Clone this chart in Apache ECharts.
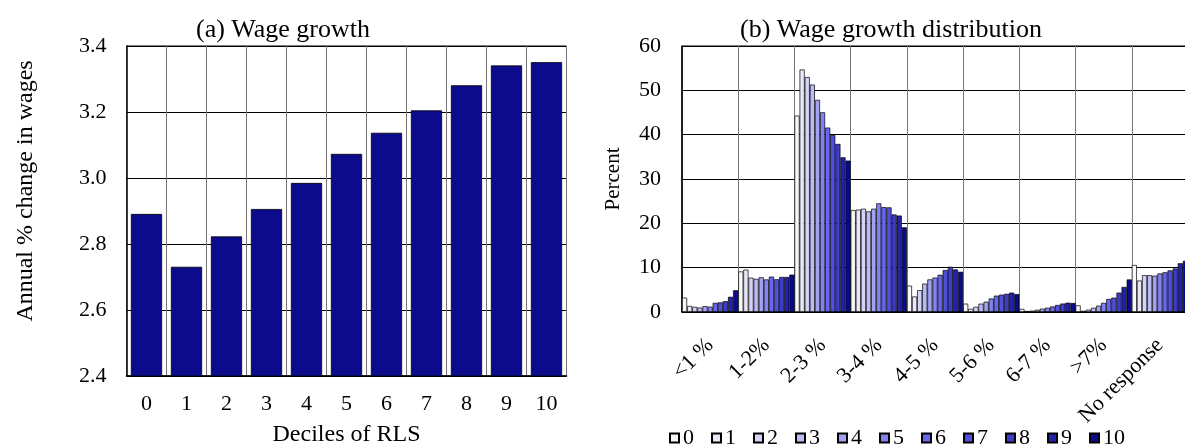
<!DOCTYPE html>
<html>
<head>
<meta charset="utf-8">
<script src="https://cdn.jsdelivr.net/npm/echarts@6/dist/echarts.min.js"></script>
<style>
  html, body { margin: 0; padding: 0; background: #fff; }
  #chart { width: 1185px; height: 447px; }
</style>
</head>
<body>
<div id="chart"></div>
<script>
// (a) wage growth by decile of RLS
const deciles = ['0', '1', '2', '3', '4', '5', '6', '7', '8', '9', '10']
const wageGrowth = [2.891, 2.731, 2.823, 2.906, 2.985, 3.073, 3.137, 3.205, 3.281, 3.341, 3.351]

// (b) distribution, one array per decile across the bins
const bins = ['<1 %', '1-2%', '2-3 %', '3-4 %', '4-5 %', '5-6 %', '6-7 %', '>7%', 'No response']
const decile0 = [3.24, 9.15, 44.3, 23.0, 5.95, 1.88, 0.7, 1.5, 10.6]
const decile1 = [1.35, 9.56, 54.7, 23.1, 3.5, 0.72, 0.22, 0.27, 7.1]
const decile2 = [1.17, 7.75, 53.0, 23.3, 4.93, 1.17, 0.3, 0.53, 8.3]
const decile3 = [1.0, 7.48, 51.3, 22.7, 6.4, 1.88, 0.5, 0.95, 8.3]
const decile4 = [1.32, 7.83, 47.85, 23.3, 7.35, 2.33, 0.75, 1.43, 8.2]
const decile5 = [1.2, 7.34, 45.05, 24.5, 7.76, 3.05, 0.97, 2.07, 8.7]
const decile6 = [2.07, 7.98, 41.6, 23.65, 8.4, 3.69, 1.25, 2.94, 8.96]
const decile7 = [2.18, 7.38, 39.95, 23.6, 9.45, 3.92, 1.58, 3.24, 9.38]
const decile8 = [2.44, 7.9, 37.9, 22.0, 10.2, 4.1, 1.9, 4.37, 9.82]
const decile9 = [3.43, 7.9, 34.9, 21.75, 9.6, 4.37, 2.1, 5.65, 10.99]
const decile10 = [4.9, 8.43, 34.15, 19.1, 9.07, 4.03, 2.03, 7.34, 11.55]
const distribution = [decile0, decile1, decile2, decile3, decile4, decile5, decile6, decile7, decile8, decile9, decile10]

const shades = ['#f8f8f8', '#e8e8f8', '#d4d4f8', '#bcbcf4', '#a2a2f0', '#8282f2', '#6666ee', '#5050dc', '#3c3cc6', '#2222aa', '#0a0a8e']

const font = 'Liberation Serif'
const txt = { fontFamily: font, fontSize: 22, color: '#000' }

const myChart = echarts.init(document.getElementById('chart'))

const distSeries = distribution.map(function (vals, i) {
  return {
    name: deciles[i],
    type: 'bar',
    xAxisIndex: 1,
    yAxisIndex: 1,
    data: vals,
    barGap: '0%',
    barCategoryGap: '0%',
    itemStyle: { color: shades[i], borderColor: '#000', borderWidth: 0.7 },
    emphasis: { disabled: true }
  }
})

myChart.setOption({
  animation: false,
  title: [
    { text: '(a) Wage growth', left: 278, top: 12, textAlign: 'center',
      textStyle: { fontFamily: font, fontSize: 26, fontWeight: 'normal', color: '#000' } },
    { text: '(b) Wage growth distribution', left: 886, top: 12, textAlign: 'center',
      textStyle: { fontFamily: font, fontSize: 26, fontWeight: 'normal', color: '#000' } }
  ],
  legend: {
    data: deciles,
    left: 664,
    top: 422,
    icon: 'rect',
    itemWidth: 9,
    itemHeight: 9,
    itemGap: 17,
    textStyle: { fontFamily: font, fontSize: 22, color: '#000', padding: [0, 0, 0, -1] }
  },
  grid: [
    { left: 126.5, top: 46, width: 440, height: 330, outerBoundsMode: 'none', show: true, borderColor: '#000', borderWidth: 1 },
    { left: 682, top: 46, width: 506, height: 266, outerBoundsMode: 'none', show: true, borderColor: '#000', borderWidth: 1 }
  ],
  xAxis: [
    {
      type: 'category', gridIndex: 0, data: deciles,
      name: 'Deciles of RLS', nameLocation: 'middle', nameGap: 47,
      nameTextStyle: { fontFamily: font, fontSize: 24, color: '#000' },
      axisLine: { lineStyle: { color: '#000', width: 1.5 } },
      axisTick: { show: false },
      axisLabel: Object.assign({ margin: 17 }, txt),
      splitLine: { show: true, interval: 0, lineStyle: { color: '#777', width: 1 } }
    },
    {
      type: 'category', gridIndex: 1, data: bins,
      axisLine: { lineStyle: { color: '#000', width: 1.5 } },
      axisTick: { show: false },
      axisLabel: Object.assign({ rotate: 45, margin: 30, interval: 0 }, txt),
      splitLine: { show: true, interval: 0, lineStyle: { color: '#777', width: 1 } }
    }
  ],
  yAxis: [
    {
      type: 'value', gridIndex: 0, min: 2.4, max: 3.4, interval: 0.2,
      name: 'Annual % change in wages', nameLocation: 'middle', nameGap: 89,
      nameTextStyle: { fontFamily: font, fontSize: 24, color: '#000', padding: [0, 0, 0, 40] },
      axisLine: { show: true, lineStyle: { color: '#000', width: 1.5 } },
      axisTick: { show: false },
      axisLabel: Object.assign({ margin: 20, formatter: function (v) { return v.toFixed(1) } }, txt),
      splitLine: { lineStyle: { color: '#000', width: 1 } }
    },
    {
      type: 'value', gridIndex: 1, min: 0, max: 60, interval: 10,
      name: 'Percent', nameLocation: 'middle', nameGap: 58,
      nameTextStyle: { fontFamily: font, fontSize: 21, color: '#000' },
      axisLine: { show: true, lineStyle: { color: '#000', width: 1.5 } },
      axisTick: { show: false },
      axisLabel: Object.assign({ margin: 21 }, txt),
      splitLine: { lineStyle: { color: '#000', width: 1 } }
    }
  ],
  series: [
    {
      name: 'Wage growth',
      type: 'bar',
      xAxisIndex: 0,
      yAxisIndex: 0,
      data: wageGrowth,
      barCategoryGap: '22%',
      itemStyle: { color: '#0b0b8c', borderColor: '#000', borderWidth: 0.8 },
      emphasis: { disabled: true }
    }
  ].concat(distSeries)
})
</script>
</body>
</html>
